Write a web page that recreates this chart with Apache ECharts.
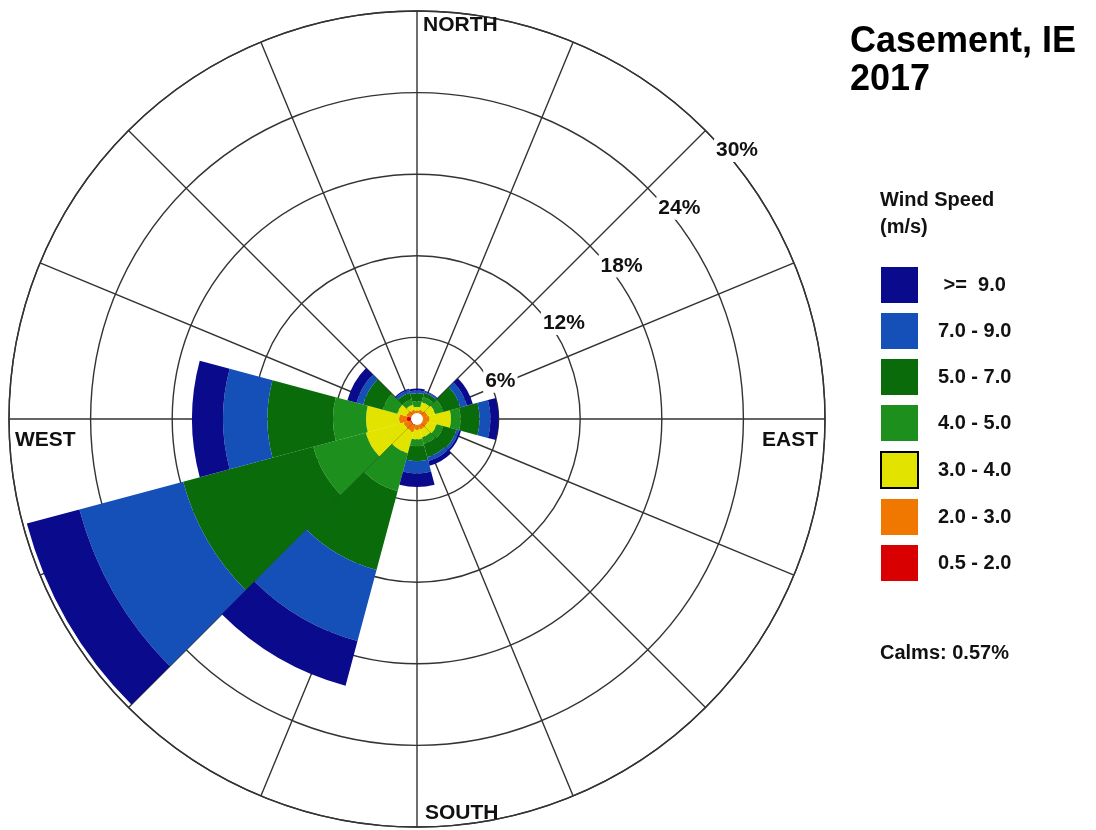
<!DOCTYPE html>
<html><head><meta charset="utf-8">
<script src="https://cdn.jsdelivr.net/npm/echarts@6/dist/echarts.min.js"></script>
<style>html,body{margin:0;padding:0;background:#fff}#c{width:1096px;height:830px}</style>
</head><body><div id="c"></div>
<script>
// 12 direction sectors (30 degrees each), clockwise from North
const directions = ['N','30','60','E','120','150','S','210','240','W','300','330'];
const speedClasses = ['0.5 - 2.0','2.0 - 3.0','3.0 - 4.0','4.0 - 5.0','5.0 - 7.0','7.0 - 9.0','>= 9.0'];
const classColors = ['#d80000','#f07800','#e3e300','#1c8f1c','#0a6b0a','#1450b8','#0a0a8c'];
// frequency (%) per direction for each wind speed class
const s0520 = [0.4,0.4,0.4,0.4,0.4,0.4,0.4,0.5,0.5,0.74,0.4,0.4];
const s2030 = [0.2,0.3,0.4,0.5,0.4,0.4,0.4,0.5,0.5,0.58,0.4,0.3];
const s3040 = [0.3,0.6,0.6,1.6,0.7,0.6,0.7,1.6,2.9,2.43,0.7,0.4];
const s4050 = [0.4,0.4,0.6,0.7,0.5,0.5,0.5,2.9,4.0,2.43,1.1,0.4];
const s5070 = [0.6,0.3,1.3,1.4,1.0,1.0,1.1,6.0,9.9,4.82,1.5,0.5];
const s7090 = [0.2,0.1,0.5,0.8,0.2,0.3,0.9,5.4,7.9,3.26,0.5,0.2];
const s90up = [0.15,0.05,0.45,0.6,0.15,0.35,1.0,3.4,4.0,2.28,0.7,0.1];
const classValues = [s0520,s2030,s3040,s4050,s5070,s7090,s90up];
const radiusMax = 30, radiusStep = 6;
const compassNames = ['NORTH','EAST','SOUTH','WEST'];
const titleText = 'Casement, IE\n2017';
const legendTitle = 'Wind Speed\n(m/s)';
const calmsText = 'Calms: 0.57%';

const FONT = '"Liberation Sans", Arial, sans-serif';
const chart = echarts.init(document.getElementById('c'));
const gridLine = {color:'#333', width:1.4};
const C = [417, 419], R = 408;

const series = speedClasses.map((name, i) => ({
  type:'bar', name, coordinateSystem:'polar', polarIndex:1, stack:'total',
  barCategoryGap:'0%', data: classValues[i],
  itemStyle:{color: classColors[i]}, emphasis:{disabled:true}, z:5
}));

chart.setOption({
  animation:false,
  backgroundColor:'#fff',
  title:[
    {text:titleText, left:850, top:23, padding:0, textStyle:{fontFamily:FONT, fontSize:36, fontWeight:'bold', lineHeight:38, color:'#000'}},
    {text:legendTitle, left:880, top:187, padding:0, textStyle:{fontFamily:FONT, fontSize:20, fontWeight:'bold', lineHeight:27, color:'#111'}},
    {text:calmsText, left:880, top:643, padding:0, textStyle:{fontFamily:FONT, fontSize:20, fontWeight:'bold', color:'#111'}}
  ],
  legend:{
    orient:'vertical', left:880, top:267, padding:0, itemWidth:37, itemHeight:36, itemGap:10,
    icon:'rect', selectedMode:false,
    data: speedClasses.slice().reverse().map(n => n === '3.0 - 4.0' ? {name:n, itemStyle:{borderColor:'#000', borderWidth:2}} : {name:n}),
    formatter: n => n === '>= 9.0' ? ' >=  9.0' : n,
    textStyle:{fontFamily:FONT, fontSize:20, fontWeight:'bold', color:'#111', padding:[0,0,0,15]}
  },
  polar:[{center:C, radius:R},{center:C, radius:R}],
  angleAxis:[
    {polarIndex:0, type:'value', min:0, max:360, interval:22.5, startAngle:45, clockwise:true,
     axisLine:{show:true, lineStyle:gridLine}, axisTick:{show:false}, axisLabel:{show:false},
     splitLine:{show:true, lineStyle:gridLine}},
    {polarIndex:1, type:'category', data:directions, startAngle:105, clockwise:true,
     axisLine:{show:false}, axisTick:{show:false}, axisLabel:{show:false}, splitLine:{show:false}}
  ],
  radiusAxis:[
    {polarIndex:0, type:'value', min:0, max:radiusMax, interval:radiusStep,
     axisLine:{show:false}, axisTick:{show:false},
     splitLine:{show:true, lineStyle:gridLine},
     axisLabel:{show:true, showMinLabel:false, formatter: v => v === 0 ? '' : v + '%',
       margin:-12, align:'left', verticalAlign:'top', fontFamily:FONT, fontSize:21, fontWeight:'bold',
       color:'#111', backgroundColor:'#fff', padding:[1,2]}},
    {polarIndex:1, type:'value', min:0, max:radiusMax, show:false}
  ],
  series,
  graphic:[
    {type:'circle', z:20, shape:{cx:C[0], cy:C[1], r:6}, style:{fill:'#fff'}},
    {type:'text', x:423, y:15, z:10, style:{text:compassNames[0], font:'bold 21px '+FONT, fill:'#111', textVerticalAlign:'top'}},
    {type:'text', x:818, y:430, z:10, style:{text:compassNames[1], font:'bold 21px '+FONT, fill:'#111', textAlign:'right', textVerticalAlign:'top'}},
    {type:'text', x:425, y:803, z:10, style:{text:compassNames[2], font:'bold 21px '+FONT, fill:'#111', textVerticalAlign:'top'}},
    {type:'text', x:15, y:430, z:10, style:{text:compassNames[3], font:'bold 21px '+FONT, fill:'#111', textVerticalAlign:'top'}}
  ]
});
</script></body></html>
